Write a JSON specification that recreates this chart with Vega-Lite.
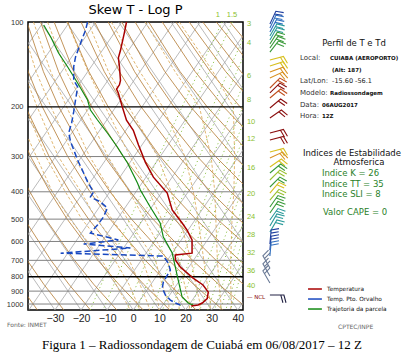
{
"$schema":"https://vega.github.io/schema/vega-lite/v6.json",
"autosize":{"type":"none"},
"width":215,"height":288,
"padding":{"left":28,"top":22,"right":164,"bottom":48},
"background":"white",
"config":{"view":{"stroke":"#000","strokeWidth":1.5}},
"datasets":{
"iso":[
{"g":1,"p":1050,"xs":-110},{"g":1,"p":100,"xs":-34.4},
{"g":2,"p":1050,"xs":-100},{"g":2,"p":100,"xs":-24.4},
{"g":3,"p":1050,"xs":-90},{"g":3,"p":100,"xs":-14.4},
{"g":4,"p":1050,"xs":-80},{"g":4,"p":100,"xs":-4.4},
{"g":5,"p":1050,"xs":-70},{"g":5,"p":100,"xs":5.6},
{"g":6,"p":1050,"xs":-60},{"g":6,"p":100,"xs":15.6},
{"g":7,"p":1050,"xs":-50},{"g":7,"p":100,"xs":25.6},
{"g":8,"p":1050,"xs":-40},{"g":8,"p":100,"xs":35.6},
{"g":9,"p":1050,"xs":-30},{"g":9,"p":100,"xs":45.6},
{"g":10,"p":1050,"xs":-20},{"g":10,"p":100,"xs":55.6},
{"g":11,"p":1050,"xs":-10},{"g":11,"p":100,"xs":65.6},
{"g":12,"p":1050,"xs":0},{"g":12,"p":100,"xs":75.6},
{"g":13,"p":1050,"xs":10},{"g":13,"p":100,"xs":85.6},
{"g":14,"p":1050,"xs":20},{"g":14,"p":100,"xs":95.6},
{"g":15,"p":1050,"xs":30},{"g":15,"p":100,"xs":105.6},
{"g":16,"p":1050,"xs":40},{"g":16,"p":100,"xs":115.6},
{"g":101,"p":1050,"xs":-30},{"g":101,"p":100,"xs":-105.6},
{"g":102,"p":1050,"xs":-20},{"g":102,"p":100,"xs":-95.6},
{"g":103,"p":1050,"xs":-10},{"g":103,"p":100,"xs":-85.6},
{"g":104,"p":1050,"xs":0},{"g":104,"p":100,"xs":-75.6},
{"g":105,"p":1050,"xs":10},{"g":105,"p":100,"xs":-65.6},
{"g":106,"p":1050,"xs":20},{"g":106,"p":100,"xs":-55.6},
{"g":107,"p":1050,"xs":30},{"g":107,"p":100,"xs":-45.6},
{"g":108,"p":1050,"xs":40},{"g":108,"p":100,"xs":-35.6},
{"g":109,"p":1050,"xs":50},{"g":109,"p":100,"xs":-25.6},
{"g":110,"p":1050,"xs":60},{"g":110,"p":100,"xs":-15.6},
{"g":111,"p":1050,"xs":70},{"g":111,"p":100,"xs":-5.6},
{"g":112,"p":1050,"xs":80},{"g":112,"p":100,"xs":4.4},
{"g":113,"p":1050,"xs":90},{"g":113,"p":100,"xs":14.4},
{"g":114,"p":1050,"xs":100},{"g":114,"p":100,"xs":24.4},
{"g":115,"p":1050,"xs":110},{"g":115,"p":100,"xs":34.4}
],
"dry":[
{"g":0,"p":1050,"xs":-36.7},{"g":0,"p":850,"xs":-43.8},
{"g":1,"p":1050,"xs":-26.6},{"g":1,"p":850,"xs":-34.3},{"g":1,"p":700,"xs":-40.6},
{"g":2,"p":1050,"xs":-16.4},{"g":2,"p":850,"xs":-24.7},{"g":2,"p":700,"xs":-31.5},{"g":2,"p":500,"xs":-41.7},
{"g":3,"p":1050,"xs":-6.3},{"g":3,"p":850,"xs":-15.2},{"g":3,"p":700,"xs":-22.5},{"g":3,"p":500,"xs":-33.5},{"g":3,"p":400,"xs":-39.6},{"g":3,"p":300,"xs":-46.4},
{"g":4,"p":1050,"xs":3.8},{"g":4,"p":850,"xs":-5.6},{"g":4,"p":700,"xs":-13.5},{"g":4,"p":500,"xs":-25.3},{"g":4,"p":400,"xs":-31.9},{"g":4,"p":300,"xs":-39.3},{"g":4,"p":200,"xs":-47.5},
{"g":5,"p":1050,"xs":14.0},{"g":5,"p":850,"xs":3.9},{"g":5,"p":700,"xs":-4.4},{"g":5,"p":500,"xs":-17.1},{"g":5,"p":400,"xs":-24.3},{"g":5,"p":300,"xs":-32.2},{"g":5,"p":200,"xs":-41.2},
{"g":6,"p":1050,"xs":24.1},{"g":6,"p":850,"xs":13.5},{"g":6,"p":700,"xs":4.6},{"g":6,"p":500,"xs":-8.9},{"g":6,"p":400,"xs":-16.6},{"g":6,"p":300,"xs":-25.1},{"g":6,"p":200,"xs":-34.8},{"g":6,"p":150,"xs":-40.2},{"g":6,"p":100,"xs":-45.8},
{"g":7,"p":1050,"xs":34.3},{"g":7,"p":850,"xs":23.0},{"g":7,"p":700,"xs":13.6},{"g":7,"p":500,"xs":-0.7},{"g":7,"p":400,"xs":-8.9},{"g":7,"p":300,"xs":-18.1},{"g":7,"p":200,"xs":-28.5},{"g":7,"p":150,"xs":-34.4},{"g":7,"p":100,"xs":-40.7},
{"g":8,"p":1050,"xs":44.4},{"g":8,"p":850,"xs":32.6},{"g":8,"p":700,"xs":22.7},{"g":8,"p":500,"xs":7.5},{"g":8,"p":400,"xs":-1.2},{"g":8,"p":300,"xs":-11.0},{"g":8,"p":200,"xs":-22.2},{"g":8,"p":150,"xs":-28.6},{"g":8,"p":100,"xs":-35.5},
{"g":9,"p":850,"xs":42.1},{"g":9,"p":700,"xs":31.7},{"g":9,"p":500,"xs":15.7},{"g":9,"p":400,"xs":6.5},{"g":9,"p":300,"xs":-3.9},{"g":9,"p":200,"xs":-15.9},{"g":9,"p":150,"xs":-22.8},{"g":9,"p":100,"xs":-30.3},
{"g":10,"p":850,"xs":51.7},{"g":10,"p":700,"xs":40.7},{"g":10,"p":500,"xs":23.9},{"g":10,"p":400,"xs":14.2},{"g":10,"p":300,"xs":3.2},{"g":10,"p":200,"xs":-9.6},{"g":10,"p":150,"xs":-17.0},{"g":10,"p":100,"xs":-25.1},
{"g":11,"p":700,"xs":49.8},{"g":11,"p":500,"xs":32.1},{"g":11,"p":400,"xs":21.9},{"g":11,"p":300,"xs":10.3},{"g":11,"p":200,"xs":-3.3},{"g":11,"p":150,"xs":-11.1},{"g":11,"p":100,"xs":-20.0},
{"g":12,"p":700,"xs":58.8},{"g":12,"p":500,"xs":40.3},{"g":12,"p":400,"xs":29.6},{"g":12,"p":300,"xs":17.4},{"g":12,"p":200,"xs":3.0},{"g":12,"p":150,"xs":-5.3},{"g":12,"p":100,"xs":-14.8},
{"g":13,"p":500,"xs":48.5},{"g":13,"p":400,"xs":37.3},{"g":13,"p":300,"xs":24.5},{"g":13,"p":200,"xs":9.3},{"g":13,"p":150,"xs":0.5},{"g":13,"p":100,"xs":-9.6},
{"g":14,"p":400,"xs":45.0},{"g":14,"p":300,"xs":31.5},{"g":14,"p":200,"xs":15.6},{"g":14,"p":150,"xs":6.3},{"g":14,"p":100,"xs":-4.4},
{"g":15,"p":400,"xs":52.7},{"g":15,"p":300,"xs":38.6},{"g":15,"p":200,"xs":22.0},{"g":15,"p":150,"xs":12.1},{"g":15,"p":100,"xs":0.7},
{"g":16,"p":300,"xs":45.7},{"g":16,"p":200,"xs":28.3},{"g":16,"p":150,"xs":17.9},{"g":16,"p":100,"xs":5.9},
{"g":17,"p":300,"xs":52.8},{"g":17,"p":200,"xs":34.6},{"g":17,"p":150,"xs":23.7},{"g":17,"p":100,"xs":11.1},
{"g":18,"p":300,"xs":59.9},{"g":18,"p":200,"xs":40.9},{"g":18,"p":150,"xs":29.5},{"g":18,"p":100,"xs":16.3},
{"g":19,"p":200,"xs":47.2},{"g":19,"p":150,"xs":35.4},{"g":19,"p":100,"xs":21.4},
{"g":20,"p":200,"xs":53.5},{"g":20,"p":150,"xs":41.2},{"g":20,"p":100,"xs":26.6},
{"g":21,"p":150,"xs":47.0},{"g":21,"p":100,"xs":31.8},
{"g":22,"p":150,"xs":52.8},{"g":22,"p":100,"xs":37.0}
],
"moist":[
{"g":-4,"p":1050,"xs":-1.2},{"g":-4,"p":1000,"xs":-2.4},{"g":-4,"p":850,"xs":-6.7},{"g":-4,"p":700,"xs":-12.0},{"g":-4,"p":500,"xs":-24.2},{"g":-4,"p":400,"xs":-31.0},{"g":-4,"p":300,"xs":-37.1},{"g":-4,"p":200,"xs":-45.5},
{"g":0,"p":1050,"xs":2.5},{"g":0,"p":1000,"xs":1.6},{"g":0,"p":850,"xs":-1.7},{"g":0,"p":700,"xs":-7.0},{"g":0,"p":500,"xs":-19.7},{"g":0,"p":400,"xs":-26.0},{"g":0,"p":300,"xs":-33.5},{"g":0,"p":200,"xs":-41.4},
{"g":4,"p":1050,"xs":6.2},{"g":4,"p":1000,"xs":5.6},{"g":4,"p":850,"xs":2.5},{"g":4,"p":700,"xs":-1.5},{"g":4,"p":500,"xs":-14.2},{"g":4,"p":400,"xs":-20.0},{"g":4,"p":300,"xs":-28.7},{"g":4,"p":200,"xs":-36.8},{"g":4,"p":150,"xs":-42.0},
{"g":8,"p":1050,"xs":9.9},{"g":8,"p":1000,"xs":9.6},{"g":8,"p":850,"xs":6.8},{"g":8,"p":700,"xs":3.5},{"g":8,"p":500,"xs":-8.2},{"g":8,"p":400,"xs":-15.0},{"g":8,"p":300,"xs":-22.7},{"g":8,"p":200,"xs":-31.5},{"g":8,"p":150,"xs":-37.2},{"g":8,"p":100,"xs":-43.1},
{"g":12,"p":1050,"xs":13.7},{"g":12,"p":1000,"xs":13.6},{"g":12,"p":850,"xs":11.0},{"g":12,"p":700,"xs":8.5},{"g":12,"p":500,"xs":-2.2},{"g":12,"p":400,"xs":-8.5},{"g":12,"p":300,"xs":-16.7},{"g":12,"p":200,"xs":-25.5},{"g":12,"p":150,"xs":-31.6},{"g":12,"p":100,"xs":-38.2},
{"g":16,"p":1050,"xs":17.5},{"g":16,"p":1000,"xs":17.6},{"g":16,"p":850,"xs":15.3},{"g":16,"p":700,"xs":13.0},{"g":16,"p":500,"xs":4.3},{"g":16,"p":400,"xs":-1.5},{"g":16,"p":300,"xs":-9.7},{"g":16,"p":200,"xs":-18.5},{"g":16,"p":150,"xs":-25.6},{"g":16,"p":100,"xs":-32.8},
{"g":20,"p":1050,"xs":21.4},{"g":20,"p":1000,"xs":21.6},{"g":20,"p":850,"xs":19.6},{"g":20,"p":700,"xs":17.5},{"g":20,"p":500,"xs":10.8},{"g":20,"p":400,"xs":6.0},{"g":20,"p":300,"xs":-1.2},{"g":20,"p":200,"xs":-10.7},{"g":20,"p":150,"xs":-17.3},{"g":20,"p":100,"xs":-25.3},
{"g":24,"p":1050,"xs":25.3},{"g":24,"p":1000,"xs":25.6},{"g":24,"p":850,"xs":23.9},{"g":24,"p":700,"xs":22.1},{"g":24,"p":500,"xs":17.8},{"g":24,"p":400,"xs":14.5},{"g":24,"p":300,"xs":9.3},{"g":24,"p":200,"xs":-1.7},{"g":24,"p":150,"xs":-9.5},{"g":24,"p":100,"xs":-17.3},
{"g":28,"p":1050,"xs":29.3},{"g":28,"p":1000,"xs":29.6},{"g":28,"p":850,"xs":28.3},{"g":28,"p":700,"xs":27.0},{"g":28,"p":500,"xs":24.8},{"g":28,"p":400,"xs":23.0},{"g":28,"p":300,"xs":19.8},{"g":28,"p":200,"xs":11.3},{"g":28,"p":150,"xs":2.5},{"g":28,"p":100,"xs":-8.4},
{"g":32,"p":1050,"xs":33.2},{"g":32,"p":1000,"xs":33.6},{"g":32,"p":850,"xs":32.8},{"g":32,"p":700,"xs":32.2},{"g":32,"p":500,"xs":31.6},{"g":32,"p":400,"xs":31.2},{"g":32,"p":300,"xs":29.8},{"g":32,"p":200,"xs":25.3},{"g":32,"p":150,"xs":16.0},{"g":32,"p":100,"xs":4.6},
{"g":36,"p":1050,"xs":37.2},{"g":36,"p":1000,"xs":37.6},{"g":36,"p":850,"xs":37.3},{"g":36,"p":700,"xs":37.3},{"g":36,"p":500,"xs":37.8},{"g":36,"p":400,"xs":38.5},{"g":36,"p":300,"xs":38.8},{"g":36,"p":200,"xs":38.3},{"g":36,"p":150,"xs":30.5},{"g":36,"p":100,"xs":17.6}
],
"mix":[
{"g":1,"p":1050,"xs":-16.5},{"g":1,"p":700,"xs":-8.3},{"g":1,"p":500,"xs":-1.3},{"g":1,"p":300,"xs":9.7},{"g":1,"p":100,"xs":34.0},
{"g":1.5,"p":1050,"xs":-11.6},{"g":1.5,"p":700,"xs":-3.5},{"g":1.5,"p":500,"xs":3.3},{"g":1.5,"p":300,"xs":14.0},{"g":1.5,"p":100,"xs":37.9},
{"g":3,"p":1050,"xs":-2.6},{"g":3,"p":700,"xs":5.1},{"g":3,"p":500,"xs":11.6},{"g":3,"p":300,"xs":21.8},{"g":3,"p":100,"xs":44.9},
{"g":4,"p":1050,"xs":1.3},{"g":4,"p":700,"xs":8.8},{"g":4,"p":500,"xs":15.2},{"g":4,"p":300,"xs":25.3},{"g":4,"p":100,"xs":48.0},
{"g":6,"p":1050,"xs":7.0},{"g":6,"p":700,"xs":14.3},{"g":6,"p":500,"xs":20.5},{"g":6,"p":300,"xs":30.3},{"g":6,"p":100,"xs":52.4},
{"g":8,"p":1050,"xs":11.2},{"g":8,"p":700,"xs":18.3},{"g":8,"p":500,"xs":24.4},{"g":8,"p":300,"xs":33.9},{"g":8,"p":100,"xs":55.7},
{"g":10,"p":1050,"xs":14.6},{"g":10,"p":700,"xs":21.5},{"g":10,"p":500,"xs":27.5},{"g":10,"p":300,"xs":36.8},{"g":10,"p":100,"xs":58.3},
{"g":12,"p":1050,"xs":17.4},{"g":12,"p":700,"xs":24.2},{"g":12,"p":500,"xs":30.0},{"g":12,"p":300,"xs":39.3},{"g":12,"p":200,"xs":46.9},
{"g":16,"p":1050,"xs":21.9},{"g":16,"p":700,"xs":28.5},{"g":16,"p":500,"xs":34.2},{"g":16,"p":300,"xs":43.2},
{"g":20,"p":1050,"xs":25.5},{"g":20,"p":700,"xs":31.9},{"g":20,"p":500,"xs":37.5},{"g":20,"p":300,"xs":46.3},
{"g":24,"p":1050,"xs":28.5},{"g":24,"p":700,"xs":34.8},{"g":24,"p":500,"xs":40.2},{"g":24,"p":400,"xs":43.9},
{"g":28,"p":1050,"xs":31.1},{"g":28,"p":700,"xs":37.2},{"g":28,"p":500,"xs":42.5},
{"g":32,"p":1050,"xs":33.4},{"g":32,"p":850,"xs":36.4},{"g":32,"p":700,"xs":39.3},{"g":32,"p":500,"xs":44.6},
{"g":36,"p":1050,"xs":35.4},{"g":36,"p":850,"xs":38.4},{"g":36,"p":700,"xs":41.3},{"g":36,"p":500,"xs":46.4},
{"g":40,"p":1050,"xs":37.2},{"g":40,"p":850,"xs":40.1},{"g":40,"p":700,"xs":43.0}
],
"prof":[
{"s":"T","p":100,"xs":-2.6},{"s":"T","p":109,"xs":-3.4},{"s":"T","p":126,"xs":-4.9},{"s":"T","p":134,"xs":-5.7},{"s":"T","p":144,"xs":-5.3},{"s":"T","p":161,"xs":-4.9},{"s":"T","p":167,"xs":-5.3},{"s":"T","p":173,"xs":-6.4},{"s":"T","p":179,"xs":-5.7},{"s":"T","p":200,"xs":-4.2},{"s":"T","p":223,"xs":-2.6},{"s":"T","p":242,"xs":0.0},{"s":"T","p":273,"xs":2.0},{"s":"T","p":314,"xs":4.6},{"s":"T","p":355,"xs":7.7},{"s":"T","p":404,"xs":13.0},{"s":"T","p":464,"xs":14.9},{"s":"T","p":516,"xs":18.7},{"s":"T","p":547,"xs":20.6},{"s":"T","p":593,"xs":22.5},{"s":"T","p":660,"xs":22.5},{"s":"T","p":670,"xs":16.1},{"s":"T","p":698,"xs":16.1},{"s":"T","p":739,"xs":18.0},{"s":"T","p":809,"xs":22.9},{"s":"T","p":856,"xs":26.7},{"s":"T","p":907,"xs":28.7},{"s":"T","p":956,"xs":28.3},{"s":"T","p":992,"xs":26.4},{"s":"T","p":1008,"xs":24.8},{"s":"T","p":1016,"xs":22.2},
{"s":"Td","p":100,"xs":-17.5},{"s":"Td","p":107,"xs":-18.3},{"s":"Td","p":119,"xs":-20.2},{"s":"Td","p":133,"xs":-22.1},{"s":"Td","p":144,"xs":-22.8},{"s":"Td","p":161,"xs":-22.8},{"s":"Td","p":170,"xs":-21.3},{"s":"Td","p":189,"xs":-22.1},{"s":"Td","p":208,"xs":-22.8},{"s":"Td","p":228,"xs":-23.6},{"s":"Td","p":247,"xs":-24.7},{"s":"Td","p":266,"xs":-24.0},{"s":"Td","p":284,"xs":-22.8},{"s":"Td","p":309,"xs":-21.3},{"s":"Td","p":343,"xs":-19.0},{"s":"Td","p":369,"xs":-17.5},{"s":"Td","p":401,"xs":-15.2},{"s":"Td","p":417,"xs":-16.4},{"s":"Td","p":435,"xs":-12.5},{"s":"Td","p":457,"xs":-9.9},{"s":"Td","p":491,"xs":-11.4},{"s":"Td","p":525,"xs":-13.7},{"s":"Td","p":560,"xs":-16.4},{"s":"Td","p":593,"xs":-5.7},{"s":"Td","p":613,"xs":-19.0},{"s":"Td","p":633,"xs":-1.1},{"s":"Td","p":660,"xs":-27.8},{"s":"Td","p":676,"xs":11.5},{"s":"Td","p":716,"xs":13.4},{"s":"Td","p":758,"xs":14.2},{"s":"Td","p":836,"xs":11.5},{"s":"Td","p":878,"xs":11.1},{"s":"Td","p":929,"xs":12.3},{"s":"Td","p":968,"xs":14.2},{"s":"Td","p":992,"xs":16.1},{"s":"Td","p":1008,"xs":18.0},
{"s":"Tp","p":102.5,"xs":-34.3},{"s":"Tp","p":113,"xs":-31.6},{"s":"Tp","p":128.8,"xs":-28.6},{"s":"Tp","p":144.4,"xs":-25.1},{"s":"Tp","p":164.6,"xs":-21.3},{"s":"Tp","p":189.1,"xs":-17.5},{"s":"Tp","p":205.1,"xs":-16.4},{"s":"Tp","p":222.6,"xs":-13.7},{"s":"Tp","p":247.5,"xs":-9.9},{"s":"Tp","p":277.5,"xs":-6.1},{"s":"Tp","p":316.2,"xs":-2.2},{"s":"Tp","p":372.3,"xs":1.6},{"s":"Tp","p":394.2,"xs":2.7},{"s":"Tp","p":452.9,"xs":6.5},{"s":"Tp","p":516.2,"xs":10.3},{"s":"Tp","p":578.7,"xs":11.5},{"s":"Tp","p":659.5,"xs":14.9},{"s":"Tp","p":739.3,"xs":16.1},{"s":"Tp","p":822,"xs":17.2},{"s":"Tp","p":944.6,"xs":18.7},{"s":"Tp","p":992,"xs":21.0},{"s":"Tp","p":1008,"xs":22.9}
],
"wind":[
{"p":101.6,"dir":25,"spd":14},{"p":105.0,"dir":25,"spd":17},{"p":108.5,"dir":28,"spd":19},{"p":112.1,"dir":30,"spd":22},{"p":115.8,"dir":30,"spd":24},{"p":119.7,"dir":32,"spd":27},{"p":123.6,"dir":35,"spd":28},{"p":127.8,"dir":38,"spd":26},
{"p":136.4,"dir":75,"spd":37},{"p":143.2,"dir":72,"spd":38},{"p":150.4,"dir":70,"spd":42},{"p":158.0,"dir":65,"spd":43},
{"p":171.4,"dir":45,"spd":47},{"p":178.5,"dir":45,"spd":52},{"p":186.0,"dir":50,"spd":48},{"p":201.8,"dir":50,"spd":53},{"p":219.0,"dir":55,"spd":55},
{"p":247.5,"dir":75,"spd":55},{"p":262.1,"dir":75,"spd":52},{"p":289.1,"dir":75,"spd":37},{"p":303.6,"dir":65,"spd":42},{"p":326.8,"dir":55,"spd":36},
{"p":343.2,"dir":50,"spd":27},{"p":363.3,"dir":45,"spd":33},{"p":384.6,"dir":45,"spd":28},{"p":404.1,"dir":40,"spd":36},{"p":427.8,"dir":40,"spd":31},{"p":452.9,"dir":35,"spd":26},{"p":475.6,"dir":35,"spd":27},
{"p":503.6,"dir":35,"spd":22},{"p":528.9,"dir":30,"spd":21},{"p":555.5,"dir":30,"spd":23},
{"p":612.7,"dir":5,"spd":13},{"p":643.6,"dir":5,"spd":12},{"p":675.9,"dir":5,"spd":16},
{"p":745.3,"dir":330,"spd":8},{"p":795.6,"dir":330,"spd":7},{"p":842.5,"dir":330,"spd":9},
{"p":929.3,"dir":90,"spd":4}
],
"txt":[
{"grp":"ttl","xs":0.85,"p":90.7,"t":"Skew T - Log P"},
{"grp":"h","xs":84.5,"p":118.7,"t":"Perfil de T e Td"},
{"grp":"h","xs":83.7,"p":291.5,"t":"Indices de Estabilidade"},
{"grp":"h","xs":86.4,"p":313.7,"t":"Atmosferica"},
{"grp":"lab","xs":63.8,"p":134.2,"t":"Local:"},
{"grp":"lab","xs":63.8,"p":161.9,"t":"Lat/Lon:"},
{"grp":"lab","xs":63.8,"p":178.5,"t":"Modelo:"},
{"grp":"lab","xs":63.8,"p":197.0,"t":"Data:"},
{"grp":"lab","xs":63.8,"p":215.4,"t":"Hora:"},
{"grp":"val","xs":75.3,"p":134.2,"t":"CUIABA (AEROPORTO)"},
{"grp":"val","xs":76.1,"p":148.0,"t":"(Alt: 187)"},
{"grp":"val","xs":75.3,"p":178.5,"t":"Radiossondagem"},
{"grp":"val","xs":72.2,"p":197.0,"t":"06AUG2017"},
{"grp":"val","xs":72.2,"p":215.4,"t":"12Z"},
{"grp":"ll","xs":76.1,"p":161.9,"t":"-15.60  -56.1"},
{"grp":"idx","xs":72.2,"p":343.2,"t":"Indice K = 26"},
{"grp":"idx","xs":72.2,"p":375.4,"t":"Indice TT = 35"},
{"grp":"idx","xs":72.2,"p":407.4,"t":"Indice SLI = 8"},
{"grp":"idx","xs":72.6,"p":471.9,"t":"Valor CAPE = 0"},
{"grp":"leg","xs":74.2,"p":884.6,"t":"Temperatura"},
{"grp":"leg","xs":74.2,"p":960.0,"t":"Temp. Pto. Orvalho"},
{"grp":"leg","xs":74.2,"p":1041.6,"t":"Trajetoria da parcela"},
{"grp":"src","xs":-48.3,"p":1187,"t":"Fonte: INMET"},
{"grp":"src","xs":78.4,"p":1206.5,"t":"CPTEC/INPE"},
{"grp":"cap","xs":26.3,"p":1398,"t":"Figura 1 – Radiossondagem de Cuiabá em 06/08/2017 – 12 Z"},
{"grp":"mrT","xs":32.4,"p":94.4,"t":"1"},
{"grp":"mrT","xs":37.8,"p":94.4,"t":"1.5"},
{"grp":"mrR","xs":43.5,"p":101.6,"t":"3"},
{"grp":"mrR","xs":43.5,"p":118.7,"t":"4"},
{"grp":"mrR","xs":43.5,"p":155.4,"t":"6"},
{"grp":"mrR","xs":43.5,"p":189.1,"t":"8"},
{"grp":"mrR","xs":43.5,"p":226.2,"t":"10"},
{"grp":"mrR","xs":43.5,"p":259.9,"t":"12"},
{"grp":"mrR","xs":43.5,"p":329.5,"t":"16"},
{"grp":"mrR","xs":43.5,"p":407.4,"t":"20"},
{"grp":"mrR","xs":43.5,"p":491.4,"t":"24"},
{"grp":"mrR","xs":43.5,"p":569.3,"t":"28"},
{"grp":"mrR","xs":43.5,"p":659.5,"t":"32"},
{"grp":"mrR","xs":43.5,"p":763.8,"t":"36"},
{"grp":"mrR","xs":43.5,"p":863.4,"t":"40"},
{"grp":"ncl","xs":43.5,"p":944.6,"t":"— NCL"}
],
"legl":[
{"s":"T","p":884.6,"xs":66.9,"xs2":72.2},
{"s":"Td","p":960.0,"xs":66.9,"xs2":72.2},
{"s":"Tp","p":1041.6,"xs":66.9,"xs2":72.2}
]
},
"layer":[
{"data":{"name":"iso"},"mark":{"type":"line","clip":true,"color":"#9c9c9c","strokeWidth":0.7},
 "encoding":{
  "x":{"field":"xs","type":"quantitative","title":null,"scale":{"domain":[-40.3,42],"nice":false,"zero":false},"axis":{"values":[-30,-20,-10,0,10,20,30,40],"title":null,"grid":false,"ticks":false,"tickSize":0,"domain":false,"labelOverlap":false,"labelFont":"Liberation Sans","labelFontSize":10.5,"labelColor":"#222","labelPadding":3}},
  "y":{"field":"p","type":"quantitative","title":null,"scale":{"type":"log","domain":[100,1050],"reverse":true,"nice":false},"axis":{"values":[100,200,300,400,500,600,700,800,900,1000],"format":"d","title":null,"grid":false,"ticks":false,"tickSize":0,"domain":false,"labelOverlap":false,"labelFont":"Liberation Sans","labelFontSize":7.5,"labelColor":"#333","labelPadding":5}},
  "detail":{"field":"g"},"order":{"field":"p","type":"quantitative"}}},
{"data":{"name":"dry"},"mark":{"type":"line","clip":true,"color":"#b27a32","strokeWidth":0.8},
 "encoding":{
  "x":{"field":"xs","type":"quantitative","title":null,"scale":{"domain":[-40.3,42],"nice":false,"zero":false},"axis":{"values":[-30,-20,-10,0,10,20,30,40],"title":null,"grid":false,"ticks":false,"tickSize":0,"domain":false,"labelOverlap":false,"labelFont":"Liberation Sans","labelFontSize":10.5,"labelColor":"#222","labelPadding":3}},
  "y":{"field":"p","type":"quantitative","title":null,"scale":{"type":"log","domain":[100,1050],"reverse":true,"nice":false},"axis":{"values":[100,200,300,400,500,600,700,800,900,1000],"format":"d","title":null,"grid":false,"ticks":false,"tickSize":0,"domain":false,"labelOverlap":false,"labelFont":"Liberation Sans","labelFontSize":7.5,"labelColor":"#333","labelPadding":5}},
  "detail":{"field":"g"},"order":{"field":"p","type":"quantitative"}}},
{"data":{"name":"moist"},"mark":{"type":"line","clip":true,"color":"#d9a44e","strokeWidth":0.8,"strokeDash":[3,2]},
 "encoding":{
  "x":{"field":"xs","type":"quantitative","title":null,"scale":{"domain":[-40.3,42],"nice":false,"zero":false},"axis":{"values":[-30,-20,-10,0,10,20,30,40],"title":null,"grid":false,"ticks":false,"tickSize":0,"domain":false,"labelOverlap":false,"labelFont":"Liberation Sans","labelFontSize":10.5,"labelColor":"#222","labelPadding":3}},
  "y":{"field":"p","type":"quantitative","title":null,"scale":{"type":"log","domain":[100,1050],"reverse":true,"nice":false},"axis":{"values":[100,200,300,400,500,600,700,800,900,1000],"format":"d","title":null,"grid":false,"ticks":false,"tickSize":0,"domain":false,"labelOverlap":false,"labelFont":"Liberation Sans","labelFontSize":7.5,"labelColor":"#333","labelPadding":5}},
  "detail":{"field":"g"},"order":{"field":"p","type":"quantitative"}}},
{"data":{"name":"mix"},"mark":{"type":"line","clip":true,"color":"#86bf3a","strokeWidth":1,"strokeDash":[1,3]},
 "encoding":{
  "x":{"field":"xs","type":"quantitative","title":null,"scale":{"domain":[-40.3,42],"nice":false,"zero":false},"axis":{"values":[-30,-20,-10,0,10,20,30,40],"title":null,"grid":false,"ticks":false,"tickSize":0,"domain":false,"labelOverlap":false,"labelFont":"Liberation Sans","labelFontSize":10.5,"labelColor":"#222","labelPadding":3}},
  "y":{"field":"p","type":"quantitative","title":null,"scale":{"type":"log","domain":[100,1050],"reverse":true,"nice":false},"axis":{"values":[100,200,300,400,500,600,700,800,900,1000],"format":"d","title":null,"grid":false,"ticks":false,"tickSize":0,"domain":false,"labelOverlap":false,"labelFont":"Liberation Sans","labelFontSize":7.5,"labelColor":"#333","labelPadding":5}},
  "detail":{"field":"g"},"order":{"field":"p","type":"quantitative"}}},
{"data":{"values":[{"p":300},{"p":400},{"p":500},{"p":600},{"p":700},{"p":900},{"p":1000}]},
 "mark":{"type":"rule","color":"#808080","strokeWidth":1},
 "encoding":{
  "x":{"datum":-40.3,"type":"quantitative","title":null,"scale":{"domain":[-40.3,42],"nice":false,"zero":false},"axis":{"values":[-30,-20,-10,0,10,20,30,40],"title":null,"grid":false,"ticks":false,"tickSize":0,"domain":false,"labelOverlap":false,"labelFont":"Liberation Sans","labelFontSize":10.5,"labelColor":"#222","labelPadding":3}},
  "x2":{"datum":42},
  "y":{"field":"p","type":"quantitative","title":null,"scale":{"type":"log","domain":[100,1050],"reverse":true,"nice":false},"axis":{"values":[100,200,300,400,500,600,700,800,900,1000],"format":"d","title":null,"grid":false,"ticks":false,"tickSize":0,"domain":false,"labelOverlap":false,"labelFont":"Liberation Sans","labelFontSize":7.5,"labelColor":"#333","labelPadding":5}}}},
{"data":{"values":[{"p":200},{"p":800}]},
 "mark":{"type":"rule","color":"#000","strokeWidth":1.4},
 "encoding":{
  "x":{"datum":-40.3,"type":"quantitative","title":null,"scale":{"domain":[-40.3,42],"nice":false,"zero":false},"axis":{"values":[-30,-20,-10,0,10,20,30,40],"title":null,"grid":false,"ticks":false,"tickSize":0,"domain":false,"labelOverlap":false,"labelFont":"Liberation Sans","labelFontSize":10.5,"labelColor":"#222","labelPadding":3}},
  "x2":{"datum":42},
  "y":{"field":"p","type":"quantitative","title":null,"scale":{"type":"log","domain":[100,1050],"reverse":true,"nice":false},"axis":{"values":[100,200,300,400,500,600,700,800,900,1000],"format":"d","title":null,"grid":false,"ticks":false,"tickSize":0,"domain":false,"labelOverlap":false,"labelFont":"Liberation Sans","labelFontSize":7.5,"labelColor":"#333","labelPadding":5}}}},
{"data":{"name":"prof"},"transform":[{"filter":"datum.s==='Tp'"}],
 "mark":{"type":"line","clip":true,"color":"#138a13","strokeWidth":1.2},
 "encoding":{
  "x":{"field":"xs","type":"quantitative","title":null,"scale":{"domain":[-40.3,42],"nice":false,"zero":false},"axis":{"values":[-30,-20,-10,0,10,20,30,40],"title":null,"grid":false,"ticks":false,"tickSize":0,"domain":false,"labelOverlap":false,"labelFont":"Liberation Sans","labelFontSize":10.5,"labelColor":"#222","labelPadding":3}},
  "y":{"field":"p","type":"quantitative","title":null,"scale":{"type":"log","domain":[100,1050],"reverse":true,"nice":false},"axis":{"values":[100,200,300,400,500,600,700,800,900,1000],"format":"d","title":null,"grid":false,"ticks":false,"tickSize":0,"domain":false,"labelOverlap":false,"labelFont":"Liberation Sans","labelFontSize":7.5,"labelColor":"#333","labelPadding":5}},
  "order":{"field":"p","type":"quantitative"}}},
{"data":{"name":"prof"},"transform":[{"filter":"datum.s==='Td'"}],
 "mark":{"type":"line","clip":true,"color":"#1848c0","strokeWidth":1.5,"strokeDash":[6,3]},
 "encoding":{
  "x":{"field":"xs","type":"quantitative","title":null,"scale":{"domain":[-40.3,42],"nice":false,"zero":false},"axis":{"values":[-30,-20,-10,0,10,20,30,40],"title":null,"grid":false,"ticks":false,"tickSize":0,"domain":false,"labelOverlap":false,"labelFont":"Liberation Sans","labelFontSize":10.5,"labelColor":"#222","labelPadding":3}},
  "y":{"field":"p","type":"quantitative","title":null,"scale":{"type":"log","domain":[100,1050],"reverse":true,"nice":false},"axis":{"values":[100,200,300,400,500,600,700,800,900,1000],"format":"d","title":null,"grid":false,"ticks":false,"tickSize":0,"domain":false,"labelOverlap":false,"labelFont":"Liberation Sans","labelFontSize":7.5,"labelColor":"#333","labelPadding":5}},
  "order":{"field":"p","type":"quantitative"}}},
{"data":{"name":"prof"},"transform":[{"filter":"datum.s==='T'"}],
 "mark":{"type":"line","clip":true,"color":"#a80000","strokeWidth":1.5},
 "encoding":{
  "x":{"field":"xs","type":"quantitative","title":null,"scale":{"domain":[-40.3,42],"nice":false,"zero":false},"axis":{"values":[-30,-20,-10,0,10,20,30,40],"title":null,"grid":false,"ticks":false,"tickSize":0,"domain":false,"labelOverlap":false,"labelFont":"Liberation Sans","labelFontSize":10.5,"labelColor":"#222","labelPadding":3}},
  "y":{"field":"p","type":"quantitative","title":null,"scale":{"type":"log","domain":[100,1050],"reverse":true,"nice":false},"axis":{"values":[100,200,300,400,500,600,700,800,900,1000],"format":"d","title":null,"grid":false,"ticks":false,"tickSize":0,"domain":false,"labelOverlap":false,"labelFont":"Liberation Sans","labelFontSize":7.5,"labelColor":"#333","labelPadding":5}},
  "order":{"field":"p","type":"quantitative"}}},
{"data":{"name":"wind"},
 "mark":{"type":"point","shape":"M0,0L0,-1L0.55,-1.15M0,-0.78L0.55,-0.93","filled":false,"size":784,"strokeWidth":1.1,"opacity":1},
 "encoding":{
  "x":{"datum":52.3,"type":"quantitative","title":null,"scale":{"domain":[-40.3,42],"nice":false,"zero":false},"axis":{"values":[-30,-20,-10,0,10,20,30,40],"title":null,"grid":false,"ticks":false,"tickSize":0,"domain":false,"labelOverlap":false,"labelFont":"Liberation Sans","labelFontSize":10.5,"labelColor":"#222","labelPadding":3}},
  "y":{"field":"p","type":"quantitative","title":null,"scale":{"type":"log","domain":[100,1050],"reverse":true,"nice":false},"axis":{"values":[100,200,300,400,500,600,700,800,900,1000],"format":"d","title":null,"grid":false,"ticks":false,"tickSize":0,"domain":false,"labelOverlap":false,"labelFont":"Liberation Sans","labelFontSize":7.5,"labelColor":"#333","labelPadding":5}},
  "angle":{"field":"dir","type":"quantitative","scale":{"domain":[0,360],"range":[0,360]}},
  "color":{"field":"spd","type":"quantitative","legend":null,
   "scale":{"type":"threshold","domain":[5,10,15,20,25,30,35,40,45,50],
    "range":["#222244","#6a7a96","#1f3f9f","#2f6fbf","#2a9a9a","#3a9a3a","#9ac030","#d8c020","#d89020","#c05020","#8b1010"]}}}},
{"data":{"name":"legl"},"transform":[{"filter":"datum.s==='T'"}],"mark":{"type":"rule","strokeWidth":1.5,"color":"#a80000"},
 "encoding":{
  "x":{"field":"xs","type":"quantitative","title":null,"scale":{"domain":[-40.3,42],"nice":false,"zero":false},"axis":{"values":[-30,-20,-10,0,10,20,30,40],"title":null,"grid":false,"ticks":false,"tickSize":0,"domain":false,"labelOverlap":false,"labelFont":"Liberation Sans","labelFontSize":10.5,"labelColor":"#222","labelPadding":3}},
  "x2":{"field":"xs2"},
  "y":{"field":"p","type":"quantitative","title":null,"scale":{"type":"log","domain":[100,1050],"reverse":true,"nice":false},"axis":{"values":[100,200,300,400,500,600,700,800,900,1000],"format":"d","title":null,"grid":false,"ticks":false,"tickSize":0,"domain":false,"labelOverlap":false,"labelFont":"Liberation Sans","labelFontSize":7.5,"labelColor":"#333","labelPadding":5}}}},
{"data":{"name":"legl"},"transform":[{"filter":"datum.s==='Td'"}],"mark":{"type":"rule","strokeWidth":1.5,"color":"#1848c0"},
 "encoding":{
  "x":{"field":"xs","type":"quantitative","title":null,"scale":{"domain":[-40.3,42],"nice":false,"zero":false},"axis":{"values":[-30,-20,-10,0,10,20,30,40],"title":null,"grid":false,"ticks":false,"tickSize":0,"domain":false,"labelOverlap":false,"labelFont":"Liberation Sans","labelFontSize":10.5,"labelColor":"#222","labelPadding":3}},
  "x2":{"field":"xs2"},
  "y":{"field":"p","type":"quantitative","title":null,"scale":{"type":"log","domain":[100,1050],"reverse":true,"nice":false},"axis":{"values":[100,200,300,400,500,600,700,800,900,1000],"format":"d","title":null,"grid":false,"ticks":false,"tickSize":0,"domain":false,"labelOverlap":false,"labelFont":"Liberation Sans","labelFontSize":7.5,"labelColor":"#333","labelPadding":5}}}},
{"data":{"name":"legl"},"transform":[{"filter":"datum.s==='Tp'"}],"mark":{"type":"rule","strokeWidth":1.5,"color":"#138a13"},
 "encoding":{
  "x":{"field":"xs","type":"quantitative","title":null,"scale":{"domain":[-40.3,42],"nice":false,"zero":false},"axis":{"values":[-30,-20,-10,0,10,20,30,40],"title":null,"grid":false,"ticks":false,"tickSize":0,"domain":false,"labelOverlap":false,"labelFont":"Liberation Sans","labelFontSize":10.5,"labelColor":"#222","labelPadding":3}},
  "x2":{"field":"xs2"},
  "y":{"field":"p","type":"quantitative","title":null,"scale":{"type":"log","domain":[100,1050],"reverse":true,"nice":false},"axis":{"values":[100,200,300,400,500,600,700,800,900,1000],"format":"d","title":null,"grid":false,"ticks":false,"tickSize":0,"domain":false,"labelOverlap":false,"labelFont":"Liberation Sans","labelFontSize":7.5,"labelColor":"#333","labelPadding":5}}}},
{"data":{"name":"txt"},
 "layer":[
  {"transform":[{"filter":"datum.grp==='ttl'"}],"mark":{"type":"text","align":"center","baseline":"middle","font":"DejaVu Sans","fontSize":13,"color":"#000"}},
  {"transform":[{"filter":"datum.grp==='h'"}],"mark":{"type":"text","align":"center","baseline":"middle","font":"DejaVu Sans","fontSize":8.5,"color":"#111"}},
  {"transform":[{"filter":"datum.grp==='lab'"}],"mark":{"type":"text","align":"left","baseline":"middle","font":"DejaVu Sans","fontSize":7,"color":"#333"}},
  {"transform":[{"filter":"datum.grp==='val'"}],"mark":{"type":"text","align":"left","baseline":"middle","font":"DejaVu Sans","fontSize":5.5,"fontWeight":"bold","color":"#111"}},
  {"transform":[{"filter":"datum.grp==='ll'"}],"mark":{"type":"text","align":"left","baseline":"middle","font":"DejaVu Sans","fontSize":6.5,"color":"#222"}},
  {"transform":[{"filter":"datum.grp==='idx'"}],"mark":{"type":"text","align":"left","baseline":"middle","font":"DejaVu Sans","fontSize":8.5,"color":"#2a7f2a"}},
  {"transform":[{"filter":"datum.grp==='leg'"}],"mark":{"type":"text","align":"left","baseline":"middle","font":"DejaVu Sans","fontSize":5.8,"color":"#111"}},
  {"transform":[{"filter":"datum.grp==='src'"}],"mark":{"type":"text","align":"left","baseline":"middle","font":"DejaVu Sans","fontSize":6,"color":"#666"}},
  {"transform":[{"filter":"datum.grp==='cap'"}],"mark":{"type":"text","align":"center","baseline":"middle","font":"Liberation Serif","fontSize":13,"color":"#000"}},
  {"transform":[{"filter":"datum.grp==='mrT'"}],"mark":{"type":"text","align":"center","baseline":"middle","font":"Liberation Sans","fontSize":7.5,"color":"#8cbf30"}},
  {"transform":[{"filter":"datum.grp==='mrR'"}],"mark":{"type":"text","align":"left","baseline":"middle","font":"Liberation Sans","fontSize":7.5,"color":"#8cbf30"}},
  {"transform":[{"filter":"datum.grp==='ncl'"}],"mark":{"type":"text","align":"left","baseline":"middle","font":"DejaVu Sans","fontSize":5.5,"color":"#8b1010"}}
 ],
 "encoding":{
  "x":{"field":"xs","type":"quantitative","title":null,"scale":{"domain":[-40.3,42],"nice":false,"zero":false},"axis":{"values":[-30,-20,-10,0,10,20,30,40],"title":null,"grid":false,"ticks":false,"tickSize":0,"domain":false,"labelOverlap":false,"labelFont":"Liberation Sans","labelFontSize":10.5,"labelColor":"#222","labelPadding":3}},
  "y":{"field":"p","type":"quantitative","title":null,"scale":{"type":"log","domain":[100,1050],"reverse":true,"nice":false},"axis":{"values":[100,200,300,400,500,600,700,800,900,1000],"format":"d","title":null,"grid":false,"ticks":false,"tickSize":0,"domain":false,"labelOverlap":false,"labelFont":"Liberation Sans","labelFontSize":7.5,"labelColor":"#333","labelPadding":5}},
  "text":{"field":"t"}}}
]
}
